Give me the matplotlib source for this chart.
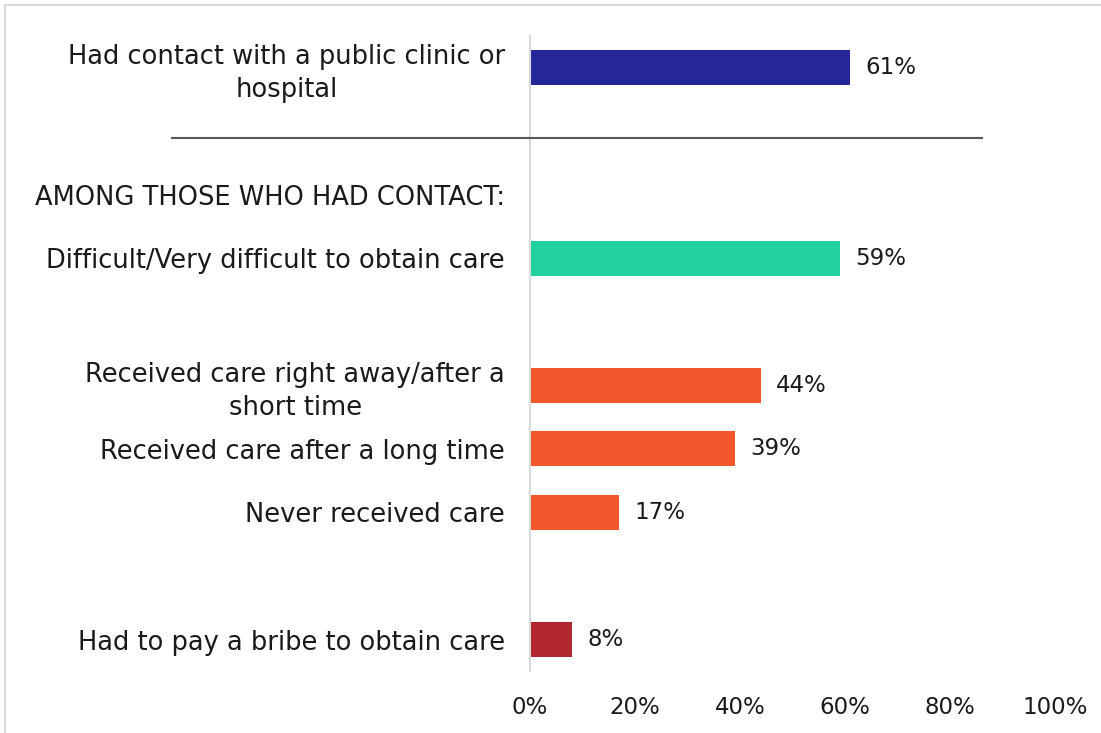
import matplotlib
matplotlib.use("Agg")
import matplotlib.pyplot as plt
from matplotlib.lines import Line2D
from matplotlib.patches import Rectangle

# Data
row_labels = [
    "Had contact with a public clinic or\nhospital",
    "",
    "AMONG THOSE WHO HAD CONTACT:",
    "Difficult/Very difficult to obtain care",
    "",
    "Received care right away/after a\nshort time",
    "Received care after a long time",
    "Never received care",
    "",
    "Had to pay a bribe to obtain care",
]
values = [61, None, None, 59, None, 44, 39, 17, None, 8]
bar_colors = ["#262699", None, None, "#23D0A0", None, "#F2572B", "#F2572B", "#F2572B", None, "#B0272E"]
x_ticks = [0, 20, 40, 60, 80, 100]
x_tick_labels = ["0%", "20%", "40%", "60%", "80%", "100%"]

plt.rcParams['font.family'] = ['DejaVu Sans']
text_color = "#1a1a1a"
fs_lab = 18.5
fs = 16.5

W, H = 1101, 733
fig = plt.figure(figsize=(W / 100, H / 100), dpi=100)
ax = fig.add_axes([530 / W, 1 - 671.3 / H, 525 / W, (671.3 - 35.7) / H])

ys = list(range(len(row_labels)))
for y, v, c in zip(ys, values, bar_colors):
    if v is None:
        continue
    ax.barh(y, v, height=0.55, color=c, edgecolor='none')
    ax.text(v + 2.9, y, f"{v}%", va='center', ha='left', fontsize=fs, color=text_color)

ax.set_xlim(0, 100)
ax.set_ylim(len(row_labels) - 0.5, -0.5)
ax.set_xticks(x_ticks)
ax.set_xticklabels(x_tick_labels, fontsize=fs, color=text_color)
ax.tick_params(axis='x', length=0, pad=18)
ax.set_yticks(ys)
ax.set_yticklabels(row_labels, fontsize=fs_lab, color=text_color, multialignment='center',
                   linespacing=1.35)
ax.tick_params(axis='y', length=0, pad=18)
for s in ['top', 'right', 'bottom']:
    ax.spines[s].set_visible(False)
ax.spines['left'].set_color('#d9d9d9')
ax.spines['left'].set_linewidth(1.5)

# separator line
fig.add_artist(Line2D([172 / W, 982 / W], [1 - 138 / H, 1 - 138 / H], color='#595959', lw=1.5))
# outer frame
fig.add_artist(Rectangle((5 / W, -0.1), 1.2, 1 - 5 / H + 0.1, fill=False, edgecolor='#d9d9d9', lw=1.5))

fig.savefig("out.png", dpi=100)
